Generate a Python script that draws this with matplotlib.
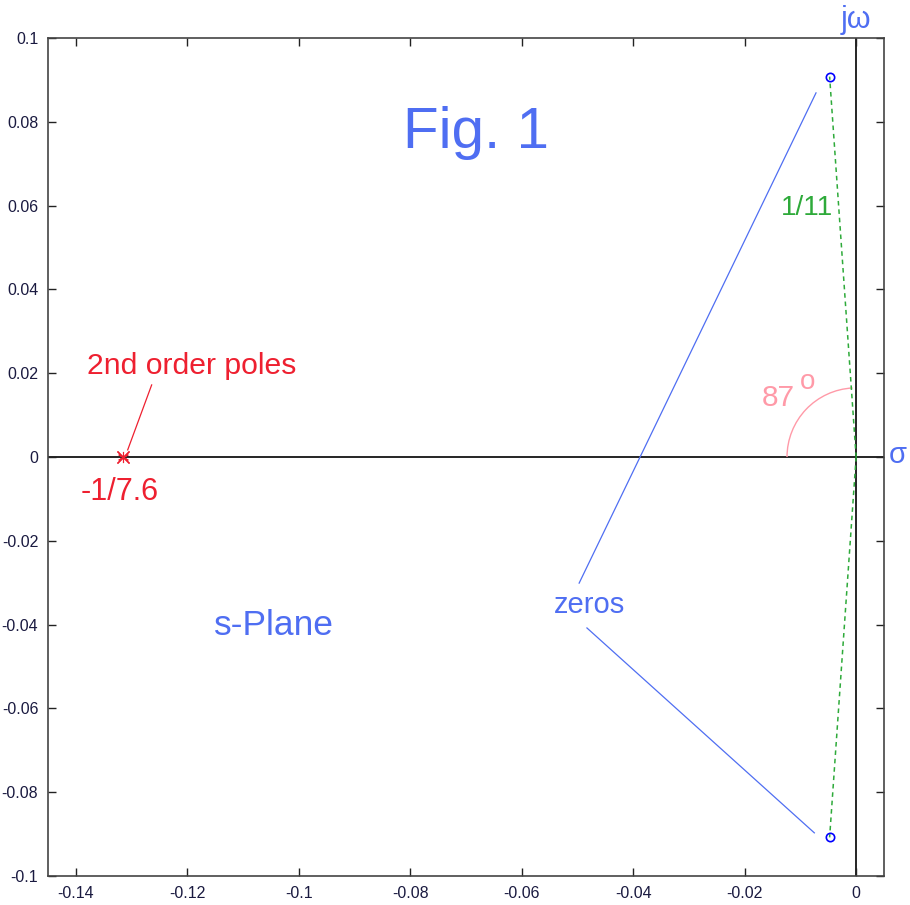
import numpy as np
import matplotlib
matplotlib.use("Agg")
import matplotlib.pyplot as plt
from matplotlib.patches import Arc
from matplotlib.transforms import ScaledTranslation

plt.rcParams['font.family'] = ['Liberation Sans', 'DejaVu Sans']

# data
zero_radius = 1 / 11
zero_angle_deg = 87
zeros_re = [-zero_radius * np.cos(np.radians(zero_angle_deg))] * 2
zeros_im = [zero_radius * np.sin(np.radians(zero_angle_deg)),
            -zero_radius * np.sin(np.radians(zero_angle_deg))]
poles_re = [-1 / 7.6, -1 / 7.6]
poles_im = [0.0, 0.0]
xticks = [-0.14, -0.12, -0.1, -0.08, -0.06, -0.04, -0.02, 0]
yticks = [-0.1, -0.08, -0.06, -0.04, -0.02, 0, 0.02, 0.04, 0.06, 0.08, 0.1]
xtick_labels = ["-0.14", "-0.12", "-0.1", "-0.08", "-0.06", "-0.04", "-0.02", "0"]
ytick_labels = ["-0.1", "-0.08", "-0.06", "-0.04", "-0.02", "0", "0.02", "0.04", "0.06", "0.08", "0.1"]

BLUE = '#4f6ef2'
RED = '#ee2030'
GREEN = '#2eaa3a'
PINK = '#ff9aa8'

fig = plt.figure(figsize=(9.1, 9.05), dpi=100)
ax = fig.add_axes([48/910, 29/905, 836/910, 838/905])
ax.set_xlim(-0.145, 0.005)
ax.set_ylim(-0.1, 0.1)

# axes lines
ax.axhline(0, color='black', lw=1.2, zorder=1)
ax.axvline(0, color='black', lw=1.2, zorder=1)

# green dashed lines origin -> zeros
for zr, zi in zip(zeros_re, zeros_im):
    ax.plot([0, zr], [0, zi], color=GREEN, lw=1.1, ls=(0, (3, 2.5)), zorder=2)

# zeros and poles
ax.plot(zeros_re, zeros_im, 'o', mfc='none', mec='#0000ff', ms=6, mew=1.2, zorder=4)
ax.plot(poles_re, poles_im, 'x', color=RED, ms=8, mew=1.0, zorder=4)
ax.plot(poles_re[0], poles_im[0], marker=(6, 2, 0), color=RED, ms=8, mew=0.8, zorder=4)

# angle arc (circular in screen)
fig.canvas.draw()
p0 = ax.transData.transform((0, 0))
p1 = ax.transData.transform((0.0124, 0.0))
rpix = p1[0] - p0[0]
arc = Arc((0, 0), width=2*rpix/100, height=2*rpix/100, theta1=zero_angle_deg + 6, theta2=180,
          color=PINK, lw=1.0,
          transform=fig.dpi_scale_trans + ScaledTranslation(0, 0, ax.transData))
ax.add_patch(arc)

# annotation leader lines
ax.plot([-0.0497, -0.0072], [-0.0301, 0.0869], color=BLUE, lw=0.9)
ax.plot([-0.0483, -0.0075], [-0.0408, -0.0897], color=BLUE, lw=0.9)
ax.plot([-0.1264, -0.1307], [0.0172, 0.0017], color=RED, lw=0.9)

# texts
ax.text(-0.0682, 0.0773, "Fig. 1", color=BLUE, fontsize=42, ha='center', va='center')
ax.text(-0.0089, 0.0594, "1/11", color=GREEN, fontsize=20, ha='center', va='center')
ax.text(-0.0139, 0.0141, "87", color=PINK, fontsize=21.5, ha='center', va='center')
ax.text(-0.0087, 0.0178, "o", color=PINK, fontsize=20, ha='center', va='center')
ax.text(-0.1192, 0.0217, "2nd order poles", color=RED, fontsize=21.7, ha='center', va='center')
ax.text(-0.1322, -0.0084, "-1/7.6", color=RED, fontsize=22, ha='center', va='center')
ax.text(-0.0479, -0.0353, "zeros", color=BLUE, fontsize=21, ha='center', va='center')
ax.text(-0.1045, -0.0403, "s-Plane", color=BLUE, fontsize=25.5, ha='center', va='center')
ax.text(1.0 + 14/836, 0.5 + 2/838, "σ", color=BLUE, fontsize=21, ha='center', va='center',
        transform=ax.transAxes, clip_on=False)
ax.text(0.0, 0.1 + 0.0042, "jω", color=BLUE, fontsize=22, ha='center', va='center',
        clip_on=False)

# ticks
ax.set_xticks(xticks)
ax.set_xticklabels(xtick_labels)
ax.set_yticks(yticks)
ax.set_yticklabels(ytick_labels)
ax.tick_params(direction='in', length=6, width=1, top=True, right=True,
               labelsize=11.5, pad=7, colors='#222222')
ax.tick_params(labelcolor='#1a1a40')
for s in ax.spines.values():
    s.set_color('#444444')
    s.set_linewidth(1.2)

fig.savefig("out.png", dpi=100)
